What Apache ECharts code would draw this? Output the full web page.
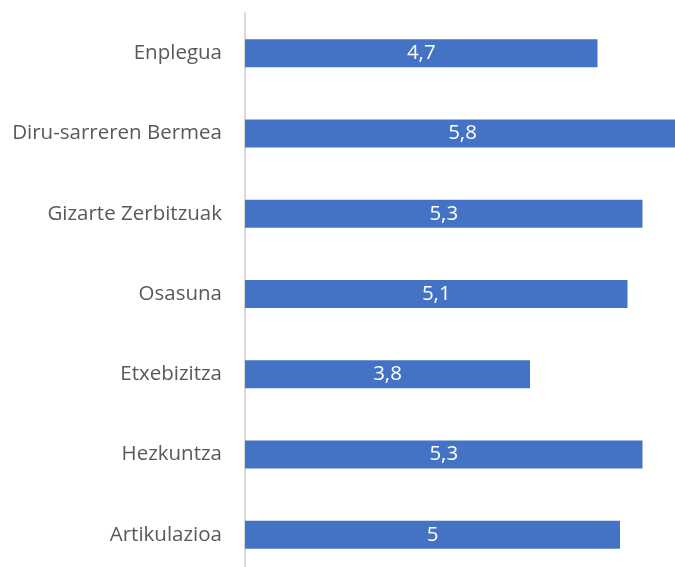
<!DOCTYPE html>
<html>
<head>
<meta charset="utf-8">
<script src="https://cdn.jsdelivr.net/npm/echarts@6/dist/echarts.min.js"></script>
<style>
  html, body { margin: 0; padding: 0; background: #fff; overflow: hidden; }
  #chart { width: 680px; height: 575px; }
</style>
</head>
<body>
<div id="chart"></div>
<script>
// Categories top to bottom
const categories = ['Enplegua', 'Diru-sarreren Bermea', 'Gizarte Zerbitzuak', 'Osasuna', 'Etxebizitza', 'Hezkuntza', 'Artikulazioa']
const values = [4.7, 5.8, 5.3, 5.1, 3.8, 5.3, 5]

// chart is a bit larger than the window: the longest bar runs past the right edge
const chart = echarts.init(document.getElementById('chart'))
chart.setOption({
  animation: false,
  grid: { left: 245, right: 0, top: 13, bottom: 0 },
  xAxis: {
    type: 'value',
    min: 0,
    max: 5.8,
    show: false,
  },
  yAxis: {
    type: 'category',
    inverse: true,
    data: categories,
    axisLine: { show: true, lineStyle: { color: '#d9d9d9', width: 2 } },
    axisTick: { show: false },
    axisLabel: {
      color: '#595959',
      fontFamily: 'Open Sans',
      fontSize: 20.5,
      margin: 23,
    },
  },
  series: [{
    type: 'bar',
    data: values,
    barWidth: 28,
    itemStyle: { color: '#4472C4' },
    label: {
      show: true,
      position: 'inside',
      color: '#fff',
      fontFamily: 'Open Sans',
      fontSize: 20.5,
      formatter: p => String(p.value).replace('.', ','),
    },
  }],
})
</script>
</body>
</html>
